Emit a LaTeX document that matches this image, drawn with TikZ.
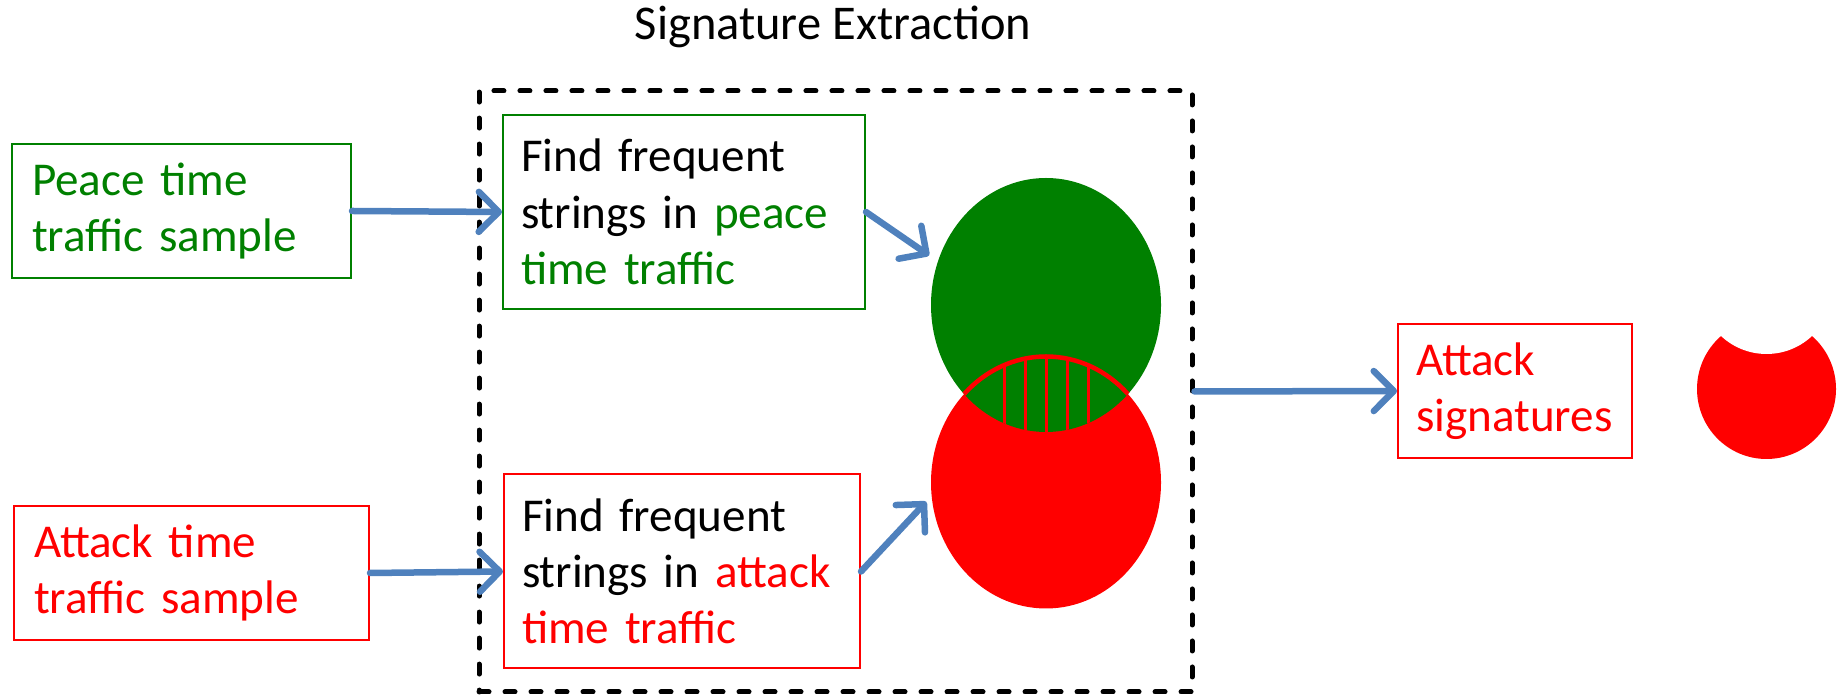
\documentclass[tikz,border=0pt]{standalone}
\usepackage{fontspec}
\setmainfont{Carlito}
\usetikzlibrary{calc,shapes.geometric,arrows.meta}

\definecolor{peacegreen}{RGB}{0,128,0}
\definecolor{attackred}{RGB}{255,0,0}
\definecolor{flowblue}{RGB}{79,129,189}

\hyphenpenalty=10000

\begin{document}
\begin{tikzpicture}


	% INPUTS:
	\newcommand{\setrx}{1.15};		% half width of the two sets
	\newcommand{\setry}{1.27};		% half height of the two sets
	\newcommand{\lensgap}{0.21};	% space between the hatching lines


	% styles
	\tikzstyle{every node}=[font=\fontsize{13.4}{16}\selectfont];
	\tikzstyle{textbox}=[draw,line width=0.02cm,align=left,inner xsep=0.2cm,inner ysep=0pt,minimum height=1.34cm];
	\tikzstyle{stringbox}=[textbox,minimum height=1.94cm];
	\tikzstyle{groupbox}=[draw=black,line width=0.05cm,dash pattern=on 0.1cm off 0.16cm,line cap=round,inner sep=0pt];
	\tikzstyle{setshape}=[ellipse,inner sep=0pt,minimum width=2*\setrx cm,minimum height=2*\setry cm];
	\tikzstyle{flow}=[draw=flowblue,line width=0.065cm,line cap=round,-{Straight Barb[length=0.2cm,width=0.4cm,round]}];

	% page size
	\useasboundingbox (0,0) rectangle (18.45,6.99);

	% the box round the extraction and its name
	\node[groupbox,minimum width=7.13cm,minimum height=6.01cm] (extract) at (8.355,3.075) {};
	\node[font=\fontsize{13.8}{16}\selectfont] (title) at (8.33,6.72) {Signature Extraction};

	% the two samples on the left
	\node[textbox,draw=peacegreen,text=peacegreen,text width=2.99cm] (peace) at (1.815,4.88) {Peace time\\traffic sample};
	\node[textbox,draw=attackred,text=attackred,text width=3.15cm] (attack) at (1.915,1.26) {Attack time\\traffic sample};

	% the two boxes inside
	\node[stringbox,draw=peacegreen,text width=3.26cm,inner xsep=0.18cm] (findpeace) at (6.84,4.87) {Find frequent\\strings in \textcolor{peacegreen}{peace}\\\textcolor{peacegreen}{time traffic}};
	\node[stringbox,draw=attackred,text width=3.2cm,inner xsep=0.18cm] (findattack) at (6.82,1.275) {Find frequent\\strings in \textcolor{attackred}{attack}\\\textcolor{attackred}{time traffic}};

	% the two sets
	\node[setshape,fill=peacegreen] (peaceset) at (10.46,3.94) {};
	\node[setshape,fill=attackred,minimum height=2.52cm] (attackset) at (10.46,2.165) {};

	% the part that both sets share
	\begin{scope}
		\clip (peaceset.center) ellipse [x radius=\setrx, y radius=\setry];
		\clip (attackset.center) ellipse [x radius=\setrx, y radius=1.26];
		\fill[peacegreen] (9.2,2.5) rectangle (11.7,3.6);
		\foreach \i in {-2,...,2}
			\draw[attackred,line width=0.03cm] ($(peaceset.center)+(\i*\lensgap,-1.5)$) -- ++(0,2.2);
	\end{scope}
	\begin{scope}
		\clip (peaceset.center) ellipse [x radius=\setrx, y radius=\setry];
		\draw[attackred,line width=0.045cm] (attackset.center) ellipse [x radius=\setrx, y radius=1.26];
	\end{scope}

	% the result on the right
	\node[textbox,draw=attackred,text=attackred,text width=1.98cm,inner xsep=0.18cm] (signatures) at (15.15,3.08) {Attack\\signatures};
	\fill[attackred] (17.665,3.10) ellipse [x radius=0.695, y radius=0.70];
	\fill[white] (17.665,4.115) circle [radius=0.665];

	% arrows
	\draw[flow] (peace.east) -- (findpeace.west);
	\draw[flow] (attack.east) -- (findattack.west);
	\draw[flow,shorten >=0.1cm] (findpeace.east) -- (peaceset.158);
	\draw[flow,shorten >=0.07cm] (findattack.east) -- (attackset.187);
	\draw[flow] (extract.east) -- (signatures.west);


\end{tikzpicture}
\end{document}
